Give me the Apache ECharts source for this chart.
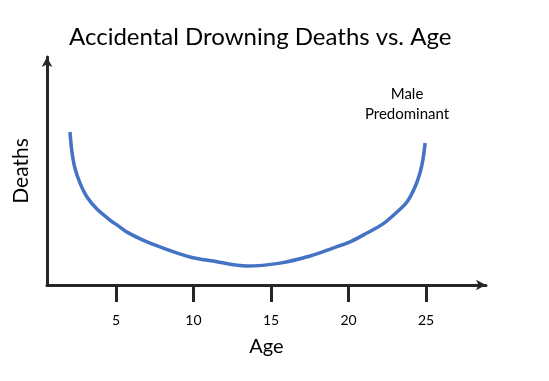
<!DOCTYPE html>
<html>
<head>
<meta charset="utf-8">
<script src="https://cdn.jsdelivr.net/npm/echarts@6/dist/echarts.min.js"></script>
<style>html,body{margin:0;padding:0;background:#fff;}#c{width:549px;height:381px;}</style>
</head>
<body>
<div id="c"></div>
<script>
const titleText = "Accidental Drowning Deaths vs. Age";
const xName = "Age";
const yName = "Deaths";
const annotation = "Male\nPredominant";
const xTicks = [5, 10, 15, 20, 25];
const ages = [2.03, 2.16, 2.35, 2.68, 3.13, 3.77, 4.61, 5.26, 5.71, 6.74, 7.84, 9.77, 11.26, 13.45, 15.58, 17.52, 19.0, 20.10, 21.19, 22.23, 23.13, 23.77, 24.29, 24.61, 24.81, 24.94];
const deaths = [67.1, 58.3, 51.3, 44.7, 38.6, 33.3, 28.5, 25.4, 23.2, 19.7, 16.7, 12.3, 10.5, 8.3, 9.6, 12.7, 16.2, 18.9, 22.8, 26.8, 32.0, 36.4, 43.0, 49.1, 55.3, 62.3];

const chart = echarts.init(document.getElementById('c'));
const axisColor = '#262626';
chart.setOption({
  animation: false,
  title: {
    text: titleText, left: 64, top: 20,
    textStyle: { fontFamily: 'Lato', fontSize: 24, fontWeight: 'normal', color: '#000' }
  },
  grid: { left: 47, right: 63, top: 57, bottom: 96, outerBoundsMode: 'none', containLabel: false },
  xAxis: {
    type: 'value', min: 0.55, max: 28.87,
    name: xName, nameLocation: 'middle', nameGap: 52,
    nameTextStyle: { fontFamily: 'Lato', fontSize: 20, color: '#000' },
    axisLine: { show: true, symbol: ['none', 'arrow'], symbolSize: [8, 10], lineStyle: { color: axisColor, width: 3 } },
    axisTick: { show: true, customValues: xTicks, length: 17, lineStyle: { color: axisColor, width: 3 } },
    axisLabel: { customValues: xTicks, margin: 28, fontFamily: 'Lato', fontSize: 14, color: '#000' },
    splitLine: { show: false }
  },
  yAxis: {
    type: 'value', min: 0, max: 100,
    name: yName, nameLocation: 'middle', nameGap: 15,
    nameTextStyle: { fontFamily: 'Lato', fontSize: 21, color: '#000' },
    axisLine: { show: true, symbol: ['none', 'arrow'], symbolSize: [8, 10], lineStyle: { color: axisColor, width: 3 } },
    axisTick: { show: false },
    axisLabel: { show: false },
    splitLine: { show: false }
  },
  graphic: [{
    type: 'text', x: 407, y: 84,
    style: { text: annotation, align: 'center', fontFamily: 'Lato', fontSize: 15, lineHeight: 20, fill: '#000' }
  }],
  series: [{
    type: 'line', smooth: 0.3, showSymbol: false,
    data: ages.map((a, i) => [a, deaths[i]]),
    lineStyle: { color: '#4472C4', width: 3.5, cap: 'butt', join: 'round' }
  }]
});
</script>
</body>
</html>
